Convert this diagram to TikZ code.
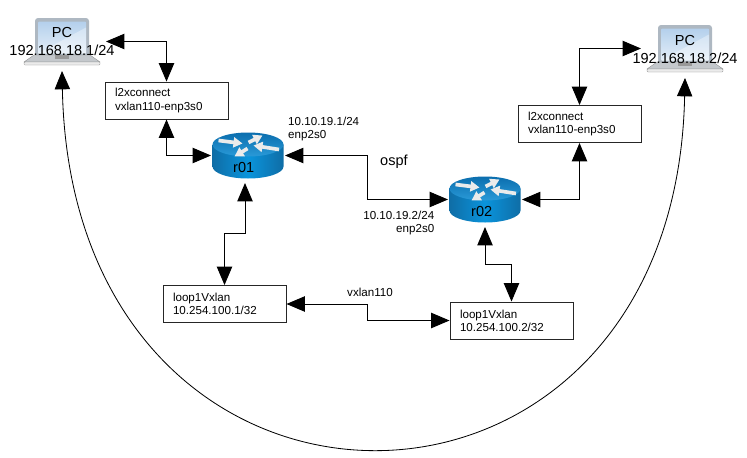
\documentclass[tikz,border=0pt]{standalone}
\usepackage{fontspec}
\setmainfont{Liberation Sans}
\usetikzlibrary{arrows.meta,calc}
\definecolor{frame}{HTML}{AEB8C2}
\definecolor{keys}{HTML}{C4C8CC}
\definecolor{sidedark}{HTML}{0F6DA6}
\definecolor{sidemid}{HTML}{0A94DC}
\definecolor{topdark}{HTML}{0B6EAE}
\definecolor{toplight}{HTML}{2A9AD8}
\definecolor{screendark}{HTML}{B4D0EC}
\definecolor{screenlight}{HTML}{E4EEF8}
\tikzset{
  big/.style={font=\fontsize{12.4}{14}\selectfont,inner sep=0pt},
  small/.style={font=\fontsize{9.9}{11.2}\selectfont,inner sep=0pt},
  box/.style={draw=black!85,line width=0.8pt,small,text width=3.09cm,align=left,minimum width=3.69cm,minimum height=1.11cm,inner xsep=0.3cm},
  laptopbox/.style={minimum width=2.64cm,minimum height=1.77cm,inner sep=0pt,outer sep=0pt},
  routerbox/.style={minimum width=2.22cm,minimum height=1.65cm,inner sep=0pt,outer sep=0pt},
  link/.style={<->,>={Triangle[length=0.55cm,width=0.46cm]},line width=0.8pt},
  glyph/.style={-{Triangle[length=0.27cm,width=0.3cm]},line width=0.11cm,draw=black!8},
  laptop/.pic={
    \fill[frame,rounded corners=0.09cm] (-0.81,0.705) rectangle (0.81,-0.45);
    \shade[top color=screendark,bottom color=screenlight,rounded corners=0.03cm] (-0.72,0.6) rectangle (0.72,-0.36);
    \fill[white,opacity=0.35] (-0.72,-0.36) -- (0.72,0.42) -- (0.72,-0.36) -- cycle;
    \fill[keys,draw=black!45,line width=0.3pt] (-0.84,-0.405) -- (0.84,-0.405) -- (1.14,-0.615) -- (-1.14,-0.615) -- cycle;
    \fill[black!40] (-0.21,-0.405) rectangle (0.21,-0.51);
    \fill[white!92!black,draw=black!45,line width=0.3pt,rounded corners=0.03cm] (-1.14,-0.615) rectangle (1.14,-0.705);
  },
  router/.pic={
    \shade[left color=sidedark,right color=sidedark,middle color=sidemid] (-1.065,0.33) -- (-1.065,-0.33) arc[start angle=180,end angle=360,x radius=1.065,y radius=0.36] -- (1.065,0.33) -- cycle;
    \shade[top color=topdark,bottom color=toplight] (0,0.33) ellipse[x radius=1.065,y radius=0.36];
    \draw[glyph] (-0.885,0.45) -- (-0.165,0.36);
    \draw[glyph] (0.015,0.39) -- (0.435,0.6);
    \draw[glyph] (0.93,0.18) -- (0.165,0.3);
    \draw[glyph] (-0.015,0.21) -- (-0.405,-0.03);
  }
}
\begin{document}
\begin{tikzpicture}
\useasboundingbox (0cm,0cm) rectangle (22.41cm,-13.71cm);
\node[laptopbox] (pc1) at (1.86cm,-1.245cm) {};
\node[laptopbox] (pc2) at (20.55cm,-1.455cm) {};
\node[routerbox] (r01) at (7.44cm,-4.665cm) {};
\node[routerbox] (r02) at (14.55cm,-5.985cm) {};
\pic at (pc1) {laptop};
\pic at (pc2) {laptop};
\pic at (r01) {router};
\pic at (r02) {router};
\node[box] (l2x1) at (4.995cm,-3.015cm) {l2xconnect\\vxlan110-enp3s0};
\node[box] (l2x2) at (17.385cm,-3.72cm) {l2xconnect\\vxlan110-enp3s0};
\node[box] (loop1) at (6.735cm,-9.12cm) {loop1Vxlan\\10.254.100.1/32};
\node[box] (loop2) at (15.345cm,-9.615cm) {loop1Vxlan\\10.254.100.2/32};
\node[big] (pc1name) at (1.86cm,-0.96cm) {PC};
\node[big] (pc1ip) at (1.86cm,-1.5cm) {192.168.18.1/24};
\node[big] (pc2name) at (20.55cm,-1.2cm) {PC};
\node[big] (pc2ip) at (20.55cm,-1.74cm) {192.168.18.2/24};
\node[big] (r01name) at (7.31cm,-5.01cm) {r01};
\node[big] (r02name) at (14.45cm,-6.33cm) {r02};
\node[big,anchor=west] (ospf) at (11.4cm,-4.86cm) {ospf};
\node[small,anchor=west,align=left] (r01ip) at (8.64cm,-3.87cm) {10.10.19.1/24\\enp2s0};
\node[small,anchor=east,align=right] (r02ip) at (13.035cm,-6.69cm) {10.10.19.2/24\\enp2s0};
\node[small,anchor=west] (vxlan) at (10.41cm,-8.76cm) {vxlan110};
\draw[link] (pc1.east) -| (l2x1.north);
\draw[link] (l2x1.south) |- (r01.west);
\draw[link] (r01.east) -- ++(2.46cm,0cm) |- (r02.west);
\draw[link] (r02.east) -| (l2x2.south);
\draw[link] (l2x2.north) |- (pc2.west);
\draw[link] ([xshift=-0.09cm]r01.south) -- ++(0cm,-1.5cm) -| (loop1.north);
\draw[link] (r02.south) -- ++(0cm,-1.125cm) -| (loop2.north);
\draw[link] (loop1.east) -- ++(2.43cm,0cm) |- (loop2.west);
\draw[link,line width=0.7pt] (pc1.south) .. controls (2.16cm,-17.1cm) and (20.25cm,-17.1cm) .. (pc2.south);
\end{tikzpicture}
\end{document}
